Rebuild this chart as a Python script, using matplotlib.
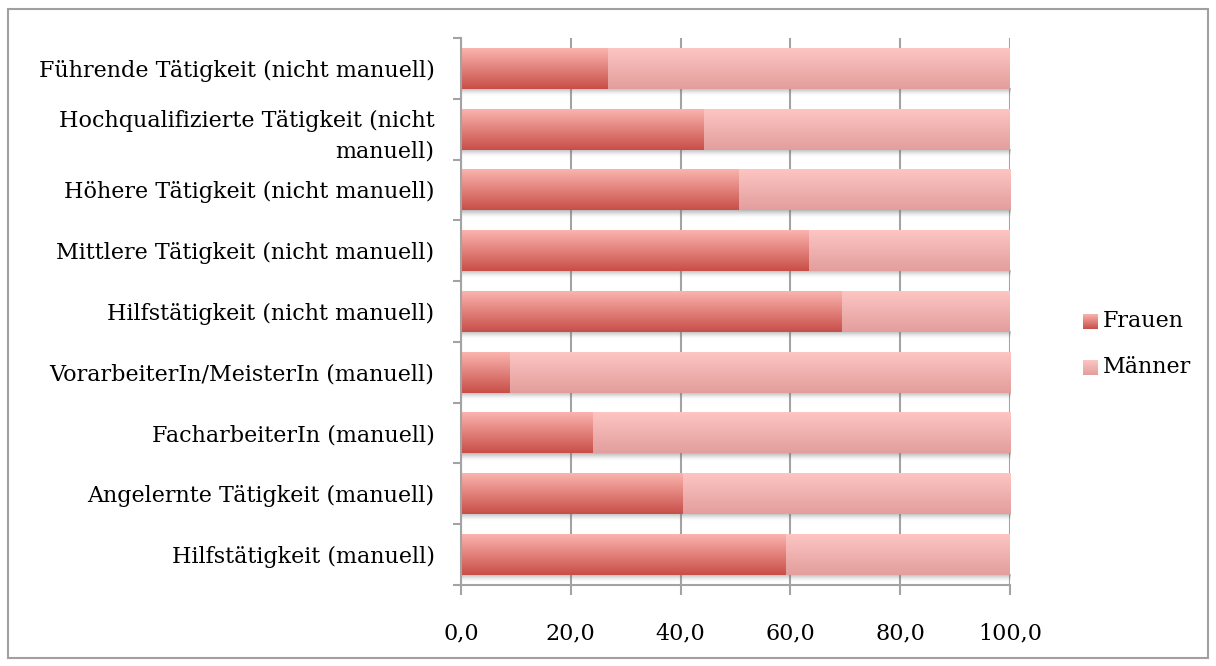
import numpy as np
import matplotlib
matplotlib.use("Agg")
import matplotlib.pyplot as plt
from matplotlib.colors import to_rgba
from matplotlib.patches import Rectangle

categories = [
    "Führende Tätigkeit (nicht manuell)",
    "Hochqualifizierte Tätigkeit (nicht\nmanuell)",
    "Höhere Tätigkeit (nicht manuell)",
    "Mittlere Tätigkeit (nicht manuell)",
    "Hilfstätigkeit (nicht manuell)",
    "VorarbeiterIn/MeisterIn (manuell)",
    "FacharbeiterIn (manuell)",
    "Angelernte Tätigkeit (manuell)",
    "Hilfstätigkeit (manuell)",
]
frauen = [26.8, 44.3, 50.6, 63.4, 69.4, 8.9, 24.0, 40.4, 59.2]
maenner = [100 - v for v in frauen]
series_names = ["Frauen", "Männer"]
xticks = [0, 20, 40, 60, 80, 100]

plt.rcParams["font.family"] = ["DejaVu Serif"]
FS = 16

FRAUEN_TOP, FRAUEN_BOT = "#fbb3ae", "#c84f48"
MAENNER_TOP, MAENNER_BOT = "#fdc5c3", "#e29e9c"
GRID = "#a3a3a3"

W, H = 1216, 666
fig = plt.figure(figsize=(W / 100, H / 100), dpi=100)
ax = fig.add_axes([461 / W, 1 - 585 / H, (1010 - 461) / W, (585 - 38) / H])

n = len(categories)
bar_h = 0.67


def gradient(top, bot, steps=64):
    c0 = np.array(to_rgba(top))
    c1 = np.array(to_rgba(bot))
    t = np.linspace(0, 1, steps)[:, None]
    return (c0 * (1 - t) + c1 * t)[:, None, :]


def shadow(steps=32):
    t = np.linspace(0, 1, steps)
    arr = np.zeros((steps, 1, 4))
    arr[..., 0:3] = 0.45
    arr[:, 0, 3] = 0.5 * (1 - t) ** 1.5
    return arr


for i, (f, m) in enumerate(zip(frauen, maenner)):
    y0 = i - bar_h / 2
    y1 = i + bar_h / 2
    # soft shadow beneath the whole bar
    ax.imshow(shadow(), extent=(0, f + m, y1 + 0.12, y1), aspect="auto",
              origin="upper", zorder=2, interpolation="bilinear")
    ax.imshow(gradient(FRAUEN_TOP, FRAUEN_BOT), extent=(0, f, y1, y0),
              aspect="auto", origin="upper", zorder=3, interpolation="bilinear")
    ax.imshow(gradient(MAENNER_TOP, MAENNER_BOT), extent=(f, f + m, y1, y0),
              aspect="auto", origin="upper", zorder=3, interpolation="bilinear")

ax.set_xlim(0, 100)
ax.set_ylim(n - 0.5, -0.5)

ax.set_xticks(xticks)
ax.set_xticklabels([f"{v:.1f}".replace(".", ",") for v in xticks])
ax.set_yticks(range(n))
ax.set_yticklabels(categories, ha="right", multialignment="right",
                   linespacing=1.5)
ax.set_yticks(np.arange(-0.5, n, 1), minor=True)

ax.tick_params(axis="y", which="major", length=0, pad=19, labelsize=FS)
ax.tick_params(axis="y", which="minor", length=6, width=1.5, color=GRID)
ax.tick_params(axis="x", which="major", length=7, width=1.5, color=GRID,
               pad=20, labelsize=FS)

ax.grid(axis="x", color=GRID, linewidth=1.5, zorder=1)
ax.set_axisbelow(True)
for side in ("top", "right"):
    ax.spines[side].set_visible(False)
for side in ("left", "bottom"):
    ax.spines[side].set_color(GRID)
    ax.spines[side].set_linewidth(1.5)
    ax.spines[side].set_zorder(4)

# legend with gradient swatches
for k, (name, top, bot) in enumerate(zip(series_names,
                                         [FRAUEN_TOP, MAENNER_TOP],
                                         [FRAUEN_BOT, MAENNER_BOT])):
    yc = 321 + 46 * k
    sw = fig.add_axes([1083 / W, 1 - (yc + 8) / H, 15 / W, 15 / H])
    sw.imshow(gradient(top, bot), aspect="auto", interpolation="bilinear")
    sw.axis("off")
    fig.text(1103 / W, 1 - yc / H, name, va="center", ha="left", fontsize=FS)

# outer frame
fig.patches.append(Rectangle((8 / W, 8 / H), 1 - 16 / W, 1 - 17 / H,
                             transform=fig.transFigure, fill=False,
                             edgecolor="#a0a0a0", linewidth=1.5))

fig.savefig("out.png", dpi=100)
